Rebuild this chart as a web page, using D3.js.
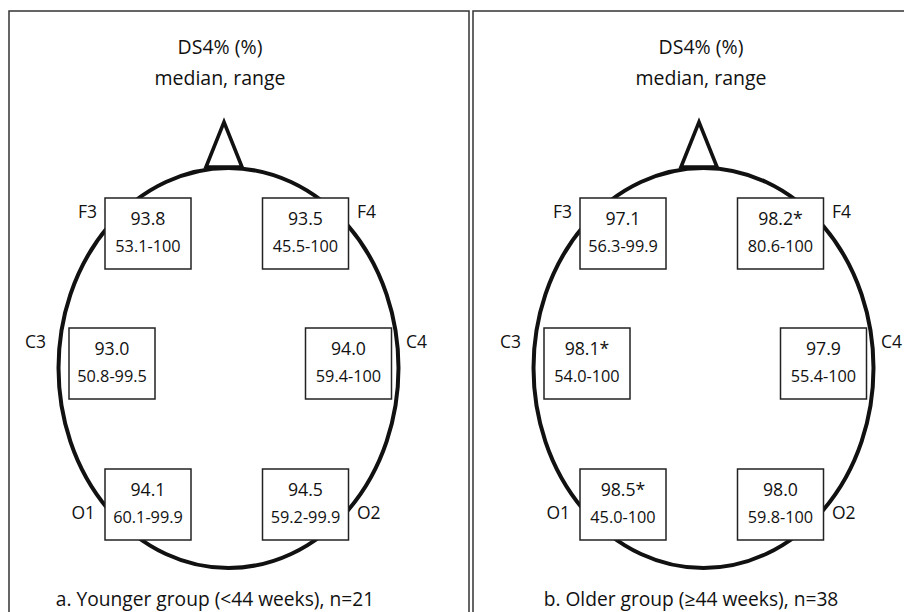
<!DOCTYPE html>
<html>
<head>
<meta charset="utf-8">
<script src="https://cdn.jsdelivr.net/npm/d3@7"></script>
<style>
  html, body { margin: 0; padding: 0; background: #fff; }
  svg { display: block; }
  text { font-family: "Open Sans", "Noto Sans", sans-serif; fill: #111; }
</style>
</head>
<body>
<div id="chart"></div>
<script>
// ---- data ----
const electrodes = ["F3", "F4", "C3", "C4", "O1", "O2"];
const groupCaptions = ["a. Younger group (<44 weeks), n=21", "b. Older group (\u226544 weeks), n=38"];
const titleLines = ["DS4% (%)", "median, range"];

const medianYounger = [93.8, 93.5, 93.0, 94.0, 94.1, 94.5];
const lowYounger    = [53.1, 45.5, 50.8, 59.4, 60.1, 59.2];
const highYounger   = [100, 100, 99.5, 100, 99.9, 99.9];
const sigYounger    = [false, false, false, false, false, false];

const medianOlder = [97.1, 98.2, 98.1, 97.9, 98.5, 98.0];
const lowOlder    = [56.3, 80.6, 54.0, 55.4, 45.0, 59.8];
const highOlder   = [99.9, 100, 100, 100, 100, 100];
const sigOlder    = [false, true, true, false, true, false];

// ---- layout (positions in panel pixels) ----
const W = 904, H = 612;
const panels = [
  { dx: 0,   titleX: 220, captionX: 215, border: [9, 469],
    median: medianYounger, low: lowYounger, high: highYounger, sig: sigYounger },
  { dx: 475, titleX: 701, captionX: 691, border: [473, 932],
    median: medianOlder, low: lowOlder, high: highOlder, sig: sigOlder }
];
const head = { cx: 228.5, cy: 368, rx: 170, ry: 200 };
const nose = { x: 224, top: 122, base: 167, half: 18 };
const boxW = 86, boxH = 71;
const boxPos = {
  F3: { x: 105,   y: 198, lx: 97,  ly: 218, anchor: "end" },
  F4: { x: 262.5, y: 198, lx: 357, ly: 218, anchor: "start" },
  C3: { x: 69,    y: 328, lx: 46,  ly: 348, anchor: "end" },
  C4: { x: 305.5, y: 328, lx: 406, ly: 348, anchor: "start" },
  O1: { x: 105,   y: 469, lx: 95,  ly: 519, anchor: "end" },
  O2: { x: 262.5, y: 469, lx: 357, ly: 519, anchor: "start" }
};

const fmt1 = d3.format(".1f");
const fmtHigh = v => (v === 100 ? "100" : fmt1(v));

const svg = d3.select("#chart").append("svg")
  .attr("width", W).attr("height", H)
  .attr("viewBox", `0 0 ${W} ${H}`);

svg.append("rect").attr("width", W).attr("height", H).attr("fill", "#fff");

panels.forEach((p, pi) => {
  // panel frame (bottom is cut off in the reference)
  svg.append("rect")
    .attr("x", p.border[0]).attr("y", 11)
    .attr("width", p.border[1] - p.border[0]).attr("height", H + 20)
    .attr("fill", "none").attr("stroke", "#333").attr("stroke-width", 1.5);

  // titles
  titleLines.forEach((t, i) => {
    svg.append("text")
      .attr("x", p.titleX).attr("y", i === 0 ? 54 : 85)
      .attr("text-anchor", "middle")
      .attr("font-size", 19.5)
      .text(t);
  });

  const g = svg.append("g").attr("transform", `translate(${p.dx},0)`);

  // nose
  g.append("path")
    .attr("d", d3.line()([[nose.x - nose.half, nose.base], [nose.x, nose.top], [nose.x + nose.half, nose.base]]) + "Z")
    .attr("fill", "#fff").attr("stroke", "#111").attr("stroke-width", 3.6)
    .attr("stroke-linejoin", "miter");

  // head
  g.append("ellipse")
    .attr("cx", head.cx).attr("cy", head.cy)
    .attr("rx", head.rx).attr("ry", head.ry)
    .attr("fill", "none").attr("stroke", "#111").attr("stroke-width", 4);

  // electrode boxes
  const cells = g.selectAll("g.cell")
    .data(electrodes.map((e, i) => ({
      name: e,
      median: p.median[i], low: p.low[i], high: p.high[i], sig: p.sig[i]
    })))
    .join("g").attr("class", "cell");

  cells.append("rect")
    .attr("x", d => boxPos[d.name].x).attr("y", d => boxPos[d.name].y)
    .attr("width", boxW).attr("height", boxH)
    .attr("fill", "#fff").attr("stroke", "#222").attr("stroke-width", 1.5);

  cells.append("text")
    .attr("x", d => boxPos[d.name].x + boxW / 2)
    .attr("y", d => boxPos[d.name].y + 27)
    .attr("text-anchor", "middle")
    .attr("font-size", 17.7)
    .text(d => fmt1(d.median) + (d.sig ? "*" : ""));

  cells.append("text")
    .attr("x", d => boxPos[d.name].x + boxW / 2)
    .attr("y", d => boxPos[d.name].y + 54)
    .attr("text-anchor", "middle")
    .attr("font-size", 16.3)
    .text(d => fmt1(d.low) + "-" + fmtHigh(d.high));

  cells.append("text")
    .attr("x", d => boxPos[d.name].lx)
    .attr("y", d => boxPos[d.name].ly)
    .attr("text-anchor", d => boxPos[d.name].anchor)
    .attr("font-size", 17.5)
    .text(d => d.name);

  // caption
  svg.append("text")
    .attr("x", p.captionX).attr("y", 606)
    .attr("text-anchor", "middle")
    .attr("font-size", 19.2)
    .text(groupCaptions[pi]);
});
</script>
</body>
</html>
